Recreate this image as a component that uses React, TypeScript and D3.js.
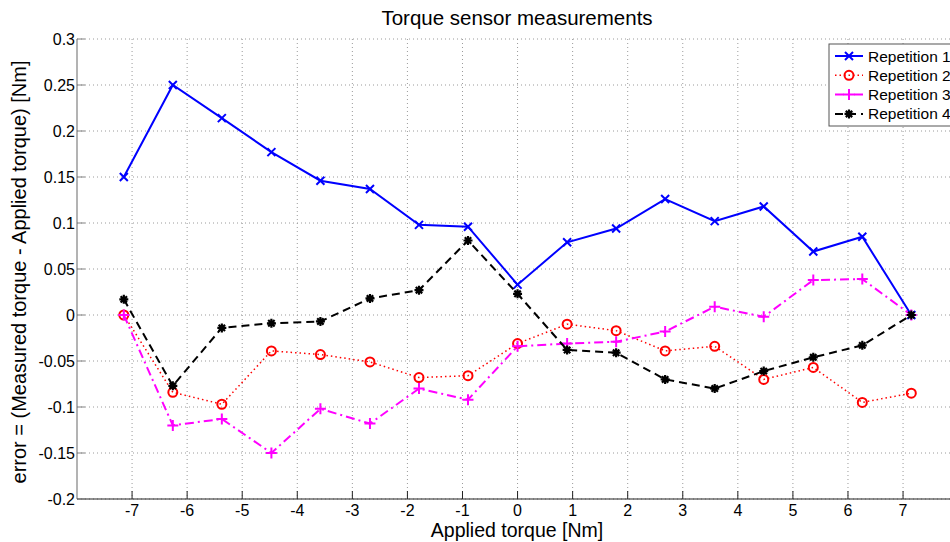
import React from "react";
import * as d3 from "d3";

// Applied torque set-points (Nm)
const appliedTorque = [-7.15, -6.26, -5.37, -4.47, -3.58, -2.68, -1.79, -0.9, 0, 0.9, 1.79, 2.68, 3.58, 4.47, 5.37, 6.26, 7.15];

// Measurement error for each repetition (Nm)
const repetition1 = [0.150, 0.250, 0.214, 0.177, 0.146, 0.137, 0.098, 0.096, 0.033, 0.079, 0.094, 0.126, 0.102, 0.118, 0.069, 0.085, 0.0];
const repetition2 = [0.0, -0.084, -0.097, -0.039, -0.043, -0.051, -0.068, -0.066, -0.031, -0.010, -0.017, -0.039, -0.034, -0.070, -0.057, -0.095, -0.085];
const repetition3 = [0.0, -0.120, -0.113, -0.150, -0.102, -0.118, -0.080, -0.092, -0.034, -0.031, -0.029, -0.018, 0.009, -0.002, 0.038, 0.039, 0.0];
const repetition4 = [0.017, -0.077, -0.014, -0.009, -0.007, 0.018, 0.027, 0.081, 0.023, -0.038, -0.041, -0.070, -0.080, -0.061, -0.046, -0.033, 0.0];

const seriesNames = ["Repetition 1", "Repetition 2", "Repetition 3", "Repetition 4"];
const xTicks = [-7, -6, -5, -4, -3, -2, -1, 0, 1, 2, 3, 4, 5, 6, 7];
const yTicks = [-0.2, -0.15, -0.1, -0.05, 0, 0.05, 0.1, 0.15, 0.2, 0.25, 0.3];

type Marker = "x" | "o" | "+" | "*";
const styles: { color: string; dash: string; width: number; marker: Marker }[] = [
  { color: "#0000ff", dash: "none", width: 2, marker: "x" },
  { color: "#ff0000", dash: "1.5,3", width: 1.5, marker: "o" },
  { color: "#ff00ff", dash: "9,4,2,4", width: 2, marker: "+" },
  { color: "#000000", dash: "8,5", width: 2, marker: "*" },
];

const FONT = "'Liberation Sans', Arial, Helvetica, sans-serif";

function MarkerShape({ type, x, y, color }: { type: Marker; x: number; y: number; color: string }) {
  if (type === "x") {
    const s = 4;
    return (
      <path d={`M${x - s},${y - s}L${x + s},${y + s}M${x - s},${y + s}L${x + s},${y - s}`} stroke={color} strokeWidth={2} fill="none" />
    );
  }
  if (type === "o") {
    return <circle cx={x} cy={y} r={4.5} stroke={color} strokeWidth={2} fill="none" />;
  }
  if (type === "+") {
    const s = 5.5;
    return <path d={`M${x - s},${y}L${x + s},${y}M${x},${y - s}L${x},${y + s}`} stroke={color} strokeWidth={2} fill="none" />;
  }
  const s = 4.5;
  const d = 3.2;
  return (
    <g stroke={color} strokeWidth={2.2} fill="none">
      <path d={`M${x - s},${y}L${x + s},${y}M${x},${y - s}L${x},${y + s}M${x - d},${y - d}L${x + d},${y + d}M${x - d},${y + d}L${x + d},${y - d}`} />
      <circle cx={x} cy={y} r={2.2} fill={color} stroke="none" />
    </g>
  );
}

export default function App() {
  const width = 950;
  const height = 542;
  const left = 77;
  const top = 39;
  const bottom = 499;
  const x = d3.scaleLinear().domain([-8, 8]).range([left, left + 16 * 55.07]);
  const y = d3.scaleLinear().domain([-0.2, 0.3]).range([bottom, top]);
  const series = [repetition1, repetition2, repetition3, repetition4];
  const line = d3
    .line<number>()
    .x((_, i) => x(appliedTorque[i]))
    .y((d) => y(d));

  const gridColor = "#9a9a9a";
  const legendX = 829;
  const legendY = 44;

  return (
    <svg width={width} height={height} style={{ position: "absolute", left: 0, top: 0, background: "#fff" }}>
      <rect x={0} y={0} width={width} height={height} fill="#fff" />
      {/* grid */}
      {yTicks.map((t) => (
        <line key={"gy" + t} x1={left} x2={width} y1={y(t)} y2={y(t)} stroke={gridColor} strokeWidth={1} strokeDasharray="1,3" />
      ))}
      {xTicks.map((t) => (
        <line key={"gx" + t} x1={x(t)} x2={x(t)} y1={top} y2={bottom} stroke={gridColor} strokeWidth={1} strokeDasharray="1,3" />
      ))}
      {/* axes */}
      <line x1={left} x2={left} y1={top} y2={bottom} stroke="#808080" strokeWidth={1.2} />
      <line x1={left} x2={width} y1={bottom} y2={bottom} stroke="#222" strokeWidth={1.2} />
      {xTicks.map((t) => (
        <line key={"tx" + t} x1={x(t)} x2={x(t)} y1={bottom} y2={bottom - 8} stroke="#222" strokeWidth={1} />
      ))}
      {yTicks.map((t) => (
        <line key={"ty" + t} x1={left} x2={left + 8} y1={y(t)} y2={y(t)} stroke="#808080" strokeWidth={1} />
      ))}
      {/* tick labels */}
      {xTicks.map((t) => (
        <text key={"lx" + t} x={x(t)} y={bottom + 17} textAnchor="middle" fontFamily={FONT} fontSize={16} fill="#000">
          {t}
        </text>
      ))}
      {yTicks.map((t) => (
        <text key={"ly" + t} x={left - 2} y={y(t) + 5.5} textAnchor="end" fontFamily={FONT} fontSize={16} fill="#000">
          {String(Number(t.toFixed(2)))}
        </text>
      ))}
      {/* series */}
      {series.map((vals, si) => (
        <g key={"s" + si}>
          <path d={line(vals) ?? ""} fill="none" stroke={styles[si].color} strokeWidth={styles[si].width} strokeDasharray={styles[si].dash} />
          {vals.map((v, i) => (
            <MarkerShape key={i} type={styles[si].marker} x={x(appliedTorque[i])} y={y(v)} color={styles[si].color} />
          ))}
        </g>
      ))}
      {/* title and labels */}
      <text x={517} y={25} textAnchor="middle" fontFamily={FONT} fontSize={20.5} fill="#000">
        Torque sensor measurements
      </text>
      <text x={517} y={537} textAnchor="middle" fontFamily={FONT} fontSize={19.5} fill="#000">
        Applied torque [Nm]
      </text>
      <text transform={`translate(26,${(top + bottom) / 2 + 3}) rotate(-90)`} textAnchor="middle" fontFamily={FONT} fontSize={20} fill="#000">
        error = (Measured torque - Applied torque) [Nm]
      </text>
      {/* legend */}
      <rect x={legendX} y={legendY} width={140} height={82} fill="#fff" stroke="#555" strokeWidth={1} />
      {seriesNames.map((name, i) => {
        const ly = legendY + 12 + i * 19.3;
        return (
          <g key={"lg" + i}>
            <line x1={legendX + 6} x2={legendX + 34} y1={ly} y2={ly} stroke={styles[i].color} strokeWidth={styles[i].width} strokeDasharray={styles[i].dash} />
            <MarkerShape type={styles[i].marker} x={legendX + 20} y={ly} color={styles[i].color} />
            <text x={legendX + 39} y={ly + 5.5} fontFamily={FONT} fontSize={15.5} fill="#000">
              {name}
            </text>
          </g>
        );
      })}
    </svg>
  );
}
